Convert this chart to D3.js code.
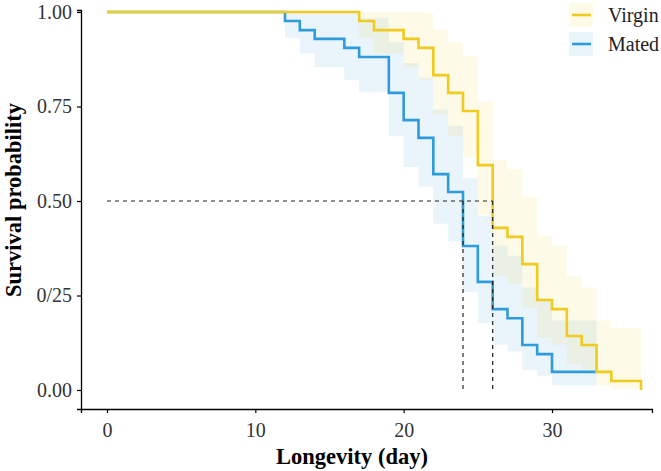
<!DOCTYPE html>
<html>
<head>
<meta charset="utf-8">
<script src="https://cdn.jsdelivr.net/npm/d3@7"></script>
<style>
  body { margin: 0; background: #fff; }
  svg text { font-family: "Liberation Serif", "Times New Roman", serif; }
</style>
</head>
<body>
<div id="chart"></div>
<script>
// Kaplan-Meier estimates
var virginTime  = [0, 17, 18, 20, 21, 22, 23, 24, 25, 26, 27, 28, 29, 30, 31, 32, 33, 34, 36];
var virginSurv  = [1, 0.976, 0.952, 0.929, 0.905, 0.833, 0.786, 0.738, 0.595, 0.429, 0.405, 0.333, 0.238, 0.214, 0.143, 0.119, 0.048, 0.024, 0];
var virginLower = [1, 0.931, 0.890, 0.854, 0.820, 0.728, 0.671, 0.616, 0.464, 0.302, 0.281, 0.217, 0.139, 0.120, 0.068, 0.052, 0.012, 0.003, 0.003];
var virginUpper = [1, 1, 1, 1, 0.998, 0.954, 0.920, 0.883, 0.764, 0.608, 0.584, 0.511, 0.409, 0.382, 0.300, 0.271, 0.184, 0.165, 0.165];

var matedTime  = [0, 12, 13, 14, 16, 17, 19, 20, 21, 22, 23, 24, 25, 26, 27, 28, 29, 30, 33];
var matedSurv  = [1, 0.976, 0.952, 0.929, 0.905, 0.881, 0.786, 0.714, 0.667, 0.571, 0.524, 0.381, 0.286, 0.214, 0.190, 0.119, 0.095, 0.048, 0.048];
var matedLower = [1, 0.931, 0.890, 0.854, 0.820, 0.788, 0.671, 0.590, 0.538, 0.440, 0.393, 0.259, 0.177, 0.120, 0.102, 0.052, 0.038, 0.012, 0.012];
var matedUpper = [1, 1, 1, 1, 0.998, 0.984, 0.920, 0.865, 0.826, 0.742, 0.699, 0.560, 0.461, 0.382, 0.355, 0.271, 0.242, 0.184, 0.184];

var groups = ["Virgin", "Mated"];
var medianDays = [24, 26];
var xTicks = [0, 10, 20, 30];
var yTicks = [0, 0.25, 0.5, 0.75, 1];
var yTickLabels = ["0.00", "0/25", "0.50", "0.75", "1.00"];

(function () {
    var width = 661, height = 471;
    var yellow = "#F0CA1E", blue = "#2E9BDB";

    var svg = d3.select("#chart").append("svg")
        .attr("width", width)
        .attr("height", height);

    // scales
    var x = d3.scaleLinear().domain([0, 30]).range([107, 552]);
    var y = d3.scaleLinear().domain([0, 1]).range([390, 12]);

    function rows(t, s, lo, hi) {
        return t.map(function (d, i) { return {t: d, s: s[i], lo: lo[i], hi: hi[i]}; });
    }
    var series = [
        {name: "Mated", color: blue, data: rows(matedTime, matedSurv, matedLower, matedUpper)},
        {name: "Virgin", color: yellow, data: rows(virginTime, virginSurv, virginLower, virginUpper)}
    ];

    var band = d3.area().curve(d3.curveStepAfter)
        .x(function (d) { return x(d.t); })
        .y0(function (d) { return y(d.lo); })
        .y1(function (d) { return y(d.hi); });
    var line = d3.line().curve(d3.curveStepAfter)
        .x(function (d) { return x(d.t); })
        .y(function (d) { return y(d.s); });

    // confidence bands
    svg.selectAll(".band").data(series).enter().append("path")
        .attr("class", "band")
        .attr("d", function (d) { return band(d.data); })
        .attr("fill", function (d) { return d.color; })
        .attr("fill-opacity", 0.1);

    // survival curves
    svg.selectAll(".curve").data(series).enter().append("path")
        .attr("class", "curve")
        .attr("d", function (d) { return line(d.data); })
        .attr("fill", "none")
        .attr("stroke", function (d) { return d.color; })
        .attr("stroke-width", 2.6);

    // median lines
    svg.append("line")
        .attr("x1", x(0)).attr("x2", x(d3.max(medianDays)))
        .attr("y1", y(0.5)).attr("y2", y(0.5))
        .attr("stroke", "#222").attr("stroke-width", 1.2)
        .attr("stroke-dasharray", "4,4");
    svg.selectAll(".med").data(medianDays).enter().append("line")
        .attr("class", "med")
        .attr("x1", function (d) { return x(d); }).attr("x2", function (d) { return x(d); })
        .attr("y1", y(0.5)).attr("y2", y(0))
        .attr("stroke", "#222").attr("stroke-width", 1.2)
        .attr("stroke-dasharray", "4,4");

    // axes (domain stretched to the panel edge)
    var xa = d3.scaleLinear().domain([x.invert(81), x.invert(652)]).range([81, 652]);
    var ya = d3.scaleLinear().domain([y.invert(409), y.invert(10)]).range([409, 10]);

    var gx = svg.append("g").attr("transform", "translate(0,409)")
        .call(d3.axisBottom(xa).tickValues(xTicks).tickSizeOuter(0).tickSize(4).tickPadding(10));
    var gy = svg.append("g").attr("transform", "translate(81,0)")
        .call(d3.axisLeft(ya).tickValues(yTicks).tickSizeOuter(0).tickSize(4).tickPadding(5)
            .tickFormat(function (d, i) { return yTickLabels[i]; }));
    [gx, gy].forEach(function (g) {
        g.select(".domain").attr("stroke", "#000").attr("stroke-width", 1.3);
        g.selectAll(".tick line").attr("stroke", "#000").attr("stroke-width", 1.2);
        g.selectAll(".tick text").attr("fill", "#333")
            .style("font-family", "'Liberation Serif', serif").style("font-size", "20px");
    });

    // axis titles
    svg.append("text")
        .attr("x", 352).attr("y", 464)
        .attr("text-anchor", "middle")
        .style("font-size", "22.5px").style("font-weight", "bold")
        .text("Longevity (day)");
    svg.append("text")
        .attr("transform", "translate(21,200) rotate(-90)")
        .attr("text-anchor", "middle")
        .style("font-size", "22.5px").style("font-weight", "bold")
        .text("Survival probability");

    // legend
    var legendColor = {Virgin: yellow, Mated: blue};
    var lg = svg.selectAll(".legend").data(groups).enter().append("g")
        .attr("class", "legend")
        .attr("transform", function (d, i) { return "translate(569," + (3 + i * 29) + ")"; });
    lg.append("rect")
        .attr("width", 24).attr("height", 24)
        .attr("fill", function (d) { return legendColor[d]; })
        .attr("fill-opacity", 0.1);
    lg.append("line")
        .attr("x1", 3).attr("x2", 22).attr("y1", 12).attr("y2", 12)
        .attr("stroke", function (d) { return legendColor[d]; })
        .attr("stroke-width", 2.6);
    lg.append("text")
        .attr("x", 39).attr("y", 19)
        .style("font-size", "20px").attr("fill", "#222")
        .text(function (d) { return d; });
})();
</script>
</body>
</html>
